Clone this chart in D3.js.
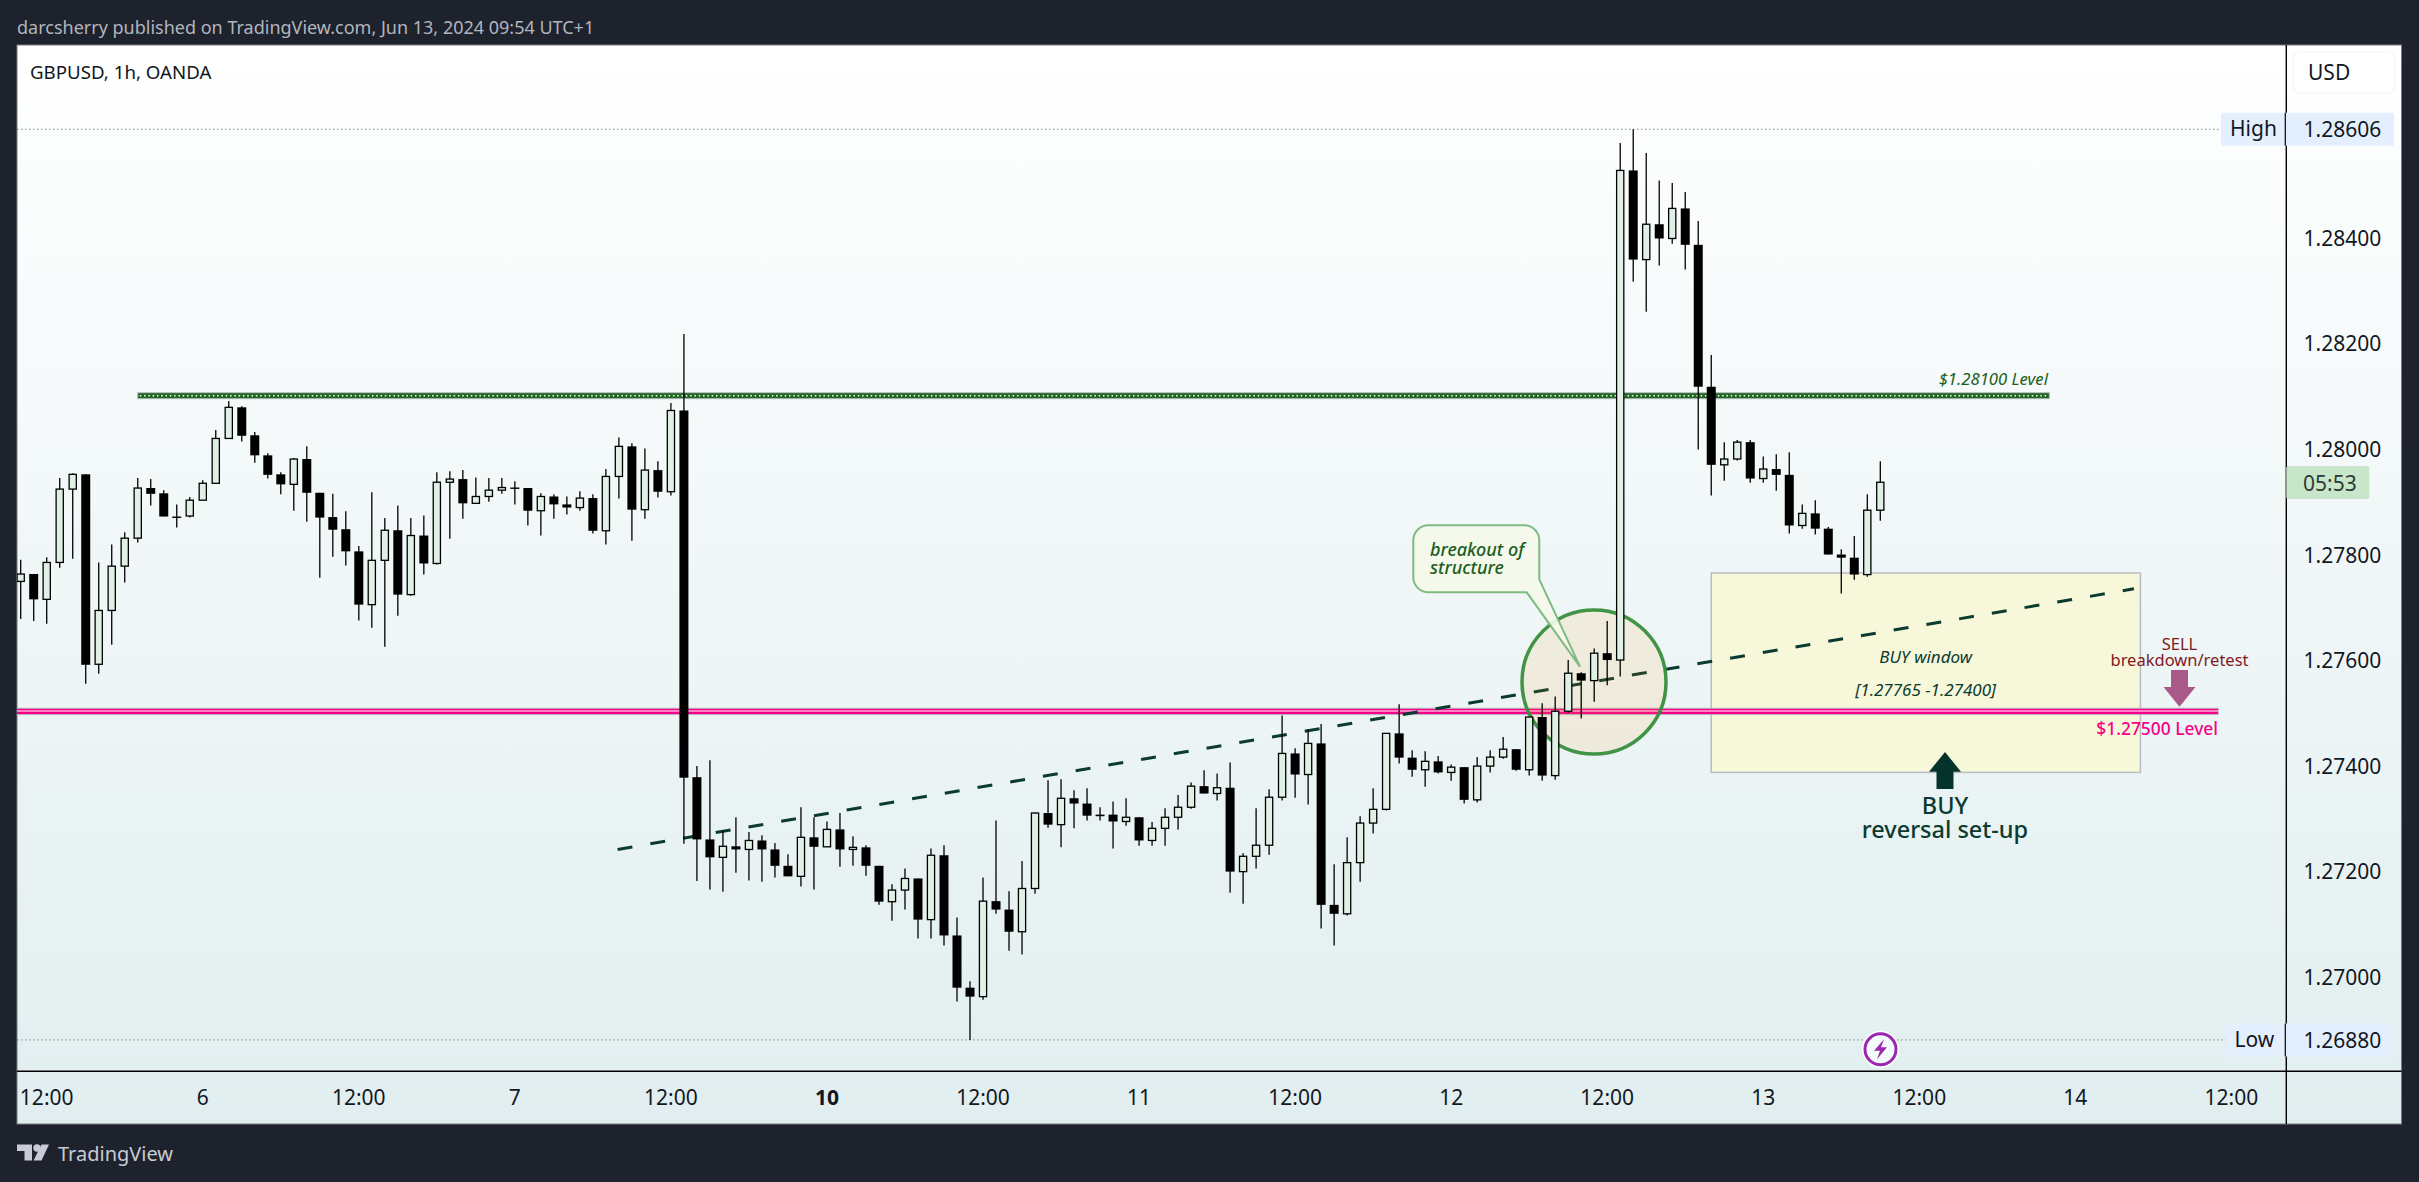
<!DOCTYPE html>
<html><head><meta charset="utf-8">
<style>html,body{margin:0;padding:0;background:#1e222d;overflow:hidden}svg{display:block}text{font-family:"Noto Sans",sans-serif}</style>
<script src="https://cdn.jsdelivr.net/npm/d3@7/dist/d3.min.js"></script>
</head><body><div id="c"></div>
<script>
const opens=[1.27749,1.27763,1.27715,1.27785,1.27924,1.27952,1.27592,1.27694,1.27778,1.27831,
1.27926,1.27916,1.27872,1.27873,1.27903,1.27935,1.28020,1.28079,1.28026,1.27988,
1.27952,1.27933,1.27981,1.27917,1.27871,1.27848,1.27806,1.27705,1.27789,1.27846,
1.27724,1.27836,1.27783,1.27937,1.27943,1.27897,1.27910,1.27922,1.27927,1.27926,
1.27883,1.27910,1.27895,1.27889,1.27907,1.27845,1.27948,1.28005,1.27885,1.27960,
1.27919,1.28073,1.27378,1.27260,1.27226,1.27247,1.27241,1.27258,1.27241,1.27210,
1.27190,1.27264,1.27246,1.27279,1.27241,1.27245,1.27210,1.27142,1.27164,1.27186,
1.27108,1.27230,1.27078,1.26979,1.26962,1.27143,1.27127,1.27085,1.27167,1.27310,
1.27288,1.27338,1.27328,1.27307,1.27307,1.27294,1.27302,1.27258,1.27281,1.27302,
1.27321,1.27361,1.27347,1.27358,1.27199,1.27228,1.27249,1.27340,1.27423,1.27383,
1.27442,1.27136,1.27119,1.27216,1.27291,1.27317,1.27461,1.27415,1.27392,1.27408,
1.27387,1.27397,1.27335,1.27399,1.27416,1.27431,1.27392,1.27492,1.27381,1.27503,
1.27575,1.27561,1.27613,1.27600,1.28528,1.28359,1.28426,1.28399,1.28456,1.28387,
1.28118,1.27970,1.27981,1.28013,1.27944,1.27962,1.27951,1.27855,1.27878,1.27849,
1.27800,1.27794,1.27762,1.27884];
const highs=[1.27790,1.27763,1.27795,1.27945,1.27954,1.27952,1.27785,1.27819,1.27842,1.27945,
1.27943,1.27922,1.27895,1.27909,1.27941,1.28036,1.28091,1.28081,1.28032,1.27992,
1.27956,1.27983,1.28005,1.27917,1.27915,1.27882,1.27816,1.27918,1.27869,1.27893,
1.27869,1.27874,1.27956,1.27958,1.27960,1.27946,1.27945,1.27945,1.27939,1.27926,
1.27916,1.27914,1.27910,1.27920,1.27914,1.27962,1.28022,1.28011,1.28001,1.27977,
1.28087,1.28218,1.27399,1.27410,1.27277,1.27302,1.27274,1.27268,1.27253,1.27232,
1.27321,1.27302,1.27294,1.27310,1.27266,1.27249,1.27210,1.27175,1.27205,1.27186,
1.27243,1.27249,1.27112,1.26991,1.27188,1.27296,1.27162,1.27219,1.27311,1.27372,
1.27374,1.27353,1.27357,1.27321,1.27332,1.27338,1.27302,1.27293,1.27319,1.27344,
1.27368,1.27391,1.27385,1.27406,1.27234,1.27319,1.27355,1.27495,1.27433,1.27469,
1.27479,1.27213,1.27264,1.27304,1.27357,1.27461,1.27516,1.27429,1.27427,1.27418,
1.27402,1.27397,1.27416,1.27429,1.27454,1.27431,1.27492,1.27518,1.27531,1.27600,
1.27577,1.27622,1.27674,1.28580,1.28606,1.28561,1.28509,1.28504,1.28487,1.28432,
1.28178,1.28013,1.28017,1.28017,1.27986,1.27990,1.27994,1.27895,1.27903,1.27852,
1.27810,1.27835,1.27914,1.27977];
const lows=[1.27678,1.27674,1.27669,1.27775,1.27792,1.27555,1.27574,1.27629,1.27747,1.27823,
1.27893,1.27872,1.27851,1.27870,1.27903,1.27935,1.28020,1.28014,1.27974,1.27944,
1.27914,1.27883,1.27862,1.27756,1.27796,1.27779,1.27675,1.27661,1.27625,1.27684,
1.27722,1.27762,1.27781,1.27830,1.27868,1.27897,1.27900,1.27915,1.27895,1.27855,
1.27836,1.27868,1.27876,1.27883,1.27840,1.27819,1.27906,1.27826,1.27868,1.27908,
1.27912,1.27252,1.27181,1.27165,1.27161,1.27197,1.27182,1.27180,1.27188,1.27190,
1.27171,1.27165,1.27246,1.27208,1.27210,1.27191,1.27136,1.27106,1.27127,1.27072,
1.27072,1.27059,1.26953,1.26880,1.26956,1.27119,1.27049,1.27042,1.27157,1.27282,
1.27245,1.27281,1.27296,1.27296,1.27243,1.27286,1.27248,1.27248,1.27248,1.27279,
1.27318,1.27347,1.27334,1.27159,1.27138,1.27205,1.27231,1.27334,1.27339,1.27326,
1.27091,1.27059,1.27116,1.27180,1.27271,1.27315,1.27404,1.27379,1.27360,1.27385,
1.27371,1.27328,1.27330,1.27387,1.27413,1.27390,1.27381,1.27371,1.27373,1.27500,
1.27489,1.27521,1.27552,1.27569,1.28317,1.28260,1.28348,1.28389,1.28340,1.27999,
1.27912,1.27940,1.27978,1.27936,1.27936,1.27921,1.27840,1.27849,1.27838,1.27800,
1.27726,1.27752,1.27758,1.27864];
const closes=[1.27763,1.27715,1.27785,1.27924,1.27952,1.27591,1.27694,1.27778,1.27831,1.27926,
1.27915,1.27872,1.27871,1.27903,1.27935,1.28020,1.28079,1.28025,1.27988,1.27951,
1.27933,1.27981,1.27917,1.27870,1.27847,1.27806,1.27705,1.27789,1.27846,1.27724,
1.27836,1.27783,1.27937,1.27943,1.27897,1.27910,1.27922,1.27927,1.27926,1.27883,
1.27910,1.27895,1.27889,1.27907,1.27845,1.27948,1.28005,1.27885,1.27960,1.27919,
1.28073,1.27377,1.27260,1.27226,1.27247,1.27241,1.27258,1.27241,1.27210,1.27190,
1.27264,1.27246,1.27279,1.27241,1.27245,1.27210,1.27142,1.27164,1.27186,1.27108,
1.27230,1.27078,1.26979,1.26962,1.27143,1.27127,1.27085,1.27167,1.27310,1.27288,
1.27338,1.27328,1.27305,1.27304,1.27294,1.27302,1.27258,1.27281,1.27302,1.27321,
1.27361,1.27347,1.27358,1.27199,1.27228,1.27249,1.27340,1.27423,1.27383,1.27442,
1.27136,1.27119,1.27216,1.27291,1.27317,1.27461,1.27415,1.27392,1.27408,1.27387,
1.27397,1.27335,1.27399,1.27416,1.27431,1.27392,1.27492,1.27381,1.27503,1.27575,
1.27561,1.27613,1.27600,1.28528,1.28359,1.28426,1.28399,1.28456,1.28387,1.28118,
1.27970,1.27981,1.28013,1.27944,1.27962,1.27951,1.27855,1.27878,1.27849,1.27800,
1.27794,1.27762,1.27884,1.27937];
const priceTicks=[1.284,1.282,1.280,1.278,1.276,1.274,1.272,1.270];
const timeTickIndex=[2,14,26,38,50,62,74,86,98,110,122,134,146,158,170];
const timeTickLabels=["12:00","6","12:00","7","12:00","10","12:00","11","12:00","12","12:00","13","12:00","14","12:00"];
const boldTick="10";
const highPrice=1.28606, lowPrice=1.26880;
const greenLevel=1.28101, pinkLevel=1.27503;
const trendIndex=[45.9,162.5], trendPrice=[1.27241,1.27735];
const zoneIndex=[130,163], zonePrice=[1.27765,1.27387];

const W=2419,H=1182,PL=17,PT=45,PR=2401.5,PB=1124,AX=2286.3,AY=1071.3;
const bg="#1e222d", ink="#131722", dark="#0b3b30";
const x=d3.scaleLinear().domain([0,143]).range([20.7,1880.3]);
const y=d3.scaleLinear().domain([1.27,1.28]).range([976.6,449]);
const svg=d3.select("#c").append("svg").attr("width",W).attr("height",H);
const defs=svg.append("defs");
const grad=defs.append("linearGradient").attr("id","g").attr("x1",0).attr("x2",0).attr("y1",0).attr("y2",1);
grad.append("stop").attr("offset",0).attr("stop-color","#ffffff");
grad.append("stop").attr("offset",1).attr("stop-color","#e1eeef");
defs.append("clipPath").attr("id","plot").append("rect").attr("x",PL).attr("y",PT).attr("width",AX-PL).attr("height",AY-PT);

function txt(g,s,px,py,o={}){
  return g.append("text").attr("x",px).attr("y",py).attr("dominant-baseline","central")
    .attr("text-anchor",o.a||"start").attr("fill",o.c||ink).attr("font-size",o.s||20)
    .attr("font-style",o.i?"italic":"normal").attr("font-weight",o.b||400).text(s);
}
function txt2(g,lines,px,ys,o={}){
  const t=g.append("text").attr("text-anchor",o.a||"start").attr("fill",o.c||ink).attr("font-size",o.s||20)
    .attr("font-style",o.i?"italic":"normal").attr("font-weight",o.b||400);
  lines.forEach((s,k)=>t.append("tspan").attr("x",px).attr("y",ys[k]).attr("dominant-baseline","central").text(s));
  return t;
}
svg.append("rect").attr("width",W).attr("height",H).attr("fill",bg);
svg.append("rect").attr("x",PL).attr("y",PT).attr("width",PR-PL).attr("height",PB-PT).attr("fill","url(#g)").attr("stroke","#787b86").attr("stroke-width",1);
txt(svg,"darcsherry published on TradingView.com, Jun 13, 2024 09:54 UTC+1",17,26.5,{c:"#b2b5be",s:18});

const plot=svg.append("g").attr("clip-path","url(#plot)");
[highPrice,lowPrice].forEach(p=>plot.append("line").attr("x1",PL).attr("x2",AX-60).attr("y1",y(p)).attr("y2",y(p)).attr("stroke","#80848f").attr("stroke-width",1).attr("stroke-dasharray","1.5 2.5"));
plot.append("rect").attr("x",x(zoneIndex[0])).attr("y",y(zonePrice[0])).attr("width",x(zoneIndex[1])-x(zoneIndex[0])).attr("height",y(zonePrice[1])-y(zonePrice[0])).attr("fill","#f7f7da").attr("stroke","#b9bcc4").attr("stroke-width",1.5);
const pinkY=y(pinkLevel);
plot.append("rect").attr("x",PL-2).attr("y",pinkY-3).attr("width",x(169)-PL+2).attr("height",6.4).attr("fill","#f7008a").attr("stroke","#b9bcc4").attr("stroke-width",1);
plot.append("line").attr("x1",PL).attr("x2",x(169)).attr("y1",pinkY-.2).attr("y2",pinkY-.2).attr("stroke","#ffffff").attr("stroke-width",1.2);
const greenY=y(greenLevel);
plot.append("rect").attr("x",x(9)).attr("y",greenY-3).attr("width",x(156)-x(9)).attr("height",6).attr("fill","#1f661f").attr("stroke","#b9bcc4").attr("stroke-width",1);
plot.append("line").attr("x1",x(9)+2).attr("x2",x(156)-1).attr("y1",greenY).attr("y2",greenY).attr("stroke","#ffffff").attr("stroke-width",1.5).attr("stroke-dasharray","1.5 2.8");
plot.append("line").attr("x1",x(trendIndex[0])).attr("y1",y(trendPrice[0])).attr("x2",x(trendIndex[1])).attr("y2",y(trendPrice[1])).attr("stroke",dark).attr("stroke-width",3).attr("stroke-dasharray","15 18.2");
plot.append("ellipse").attr("cx",1594).attr("cy",682).attr("rx",72).attr("ry",72).attr("fill","rgba(255,152,0,0.1)").attr("stroke","#388e3c").attr("stroke-opacity",.95).attr("stroke-width",3.5);
plot.append("path").attr("d","M1428.3 525.3H1524.3a15 15 0 0 1 15 15V579.3L1580 666.7L1526.7 592.3H1428.3a15 15 0 0 1 -15 -15V540.3a15 15 0 0 1 15 -15Z").attr("fill","#f5f8ea").attr("fill-opacity",.92).attr("stroke","#7fba82").attr("stroke-width",2);
const idx=d3.range(opens.length);
const cand=plot.append("g").selectAll("g").data(idx).join("g");
cand.append("line").attr("x1",i=>x(i)).attr("x2",i=>x(i)).attr("y1",i=>y(highs[i])).attr("y2",i=>y(lows[i])).attr("stroke","#000").attr("stroke-width",1.3);
cand.append("rect").attr("x",i=>x(i)-(closes[i]>=opens[i]?3.6:4.5)).attr("width",i=>closes[i]>=opens[i]?7.2:9)
  .attr("y",i=>y(Math.max(opens[i],closes[i])))
  .attr("height",i=>Math.max(1.4,Math.abs(y(opens[i])-y(closes[i]))))
  .attr("fill",i=>closes[i]>=opens[i]?"#e0f0e5":"#000")
  .attr("stroke",i=>closes[i]>=opens[i]?"#000":"none").attr("stroke-width",1.3);
txt2(plot,["breakout of","structure"],1430,[549,566.5],{c:"#1b5e20",s:18,i:1,b:500});
txt(plot,"$1.28100 Level",2048,378,{a:"end",c:"#1b5e20",s:16.7,i:1});
txt(plot,"BUY window",1925.7,656.5,{a:"middle",c:dark,s:17,i:1});
txt(plot,"[1.27765 -1.27400]",1925.7,689,{a:"middle",c:dark,s:17,i:1});
txt(plot,"$1.27500 Level",2218,728,{a:"end",c:"#f7008a",s:17.4,b:500});
txt2(plot,["SELL","breakdown/retest"],2179.5,[643,659],{a:"middle",c:"#801922",s:16.5});
txt2(plot,["BUY","reversal set-up"],1945,[805,829],{a:"middle",c:dark,s:23.5,b:500});
plot.append("path").attr("d","M1945 752L1961 771.7H1953.5V789H1936.5V771.7H1929Z").attr("fill","#04332b");
plot.append("path").attr("d","M2179.5 706.7L2163.5 687H2171V670H2188V687H2195.5Z").attr("fill","#a9588a");
const ic=plot.append("g").attr("transform","translate(1880.5,1049.3)");
ic.append("circle").attr("r",17.5).attr("fill","#fff").attr("stroke","#fff").attr("stroke-width",2);
ic.append("circle").attr("r",15.5).attr("fill","#f4fbfb").attr("stroke","#9c27b0").attr("stroke-width",3);
ic.append("path").attr("d","M3.5 -10L-6.5 1.5H-0.5L-3.5 10L6.5 -2H0.5Z").attr("fill","#9c27b0");

svg.append("line").attr("x1",AX).attr("x2",AX).attr("y1",PT).attr("y2",PB).attr("stroke","#000").attr("stroke-width",1.4);
svg.append("line").attr("x1",PL).attr("x2",PR).attr("y1",AY).attr("y2",AY).attr("stroke","#000").attr("stroke-width",1.4);
const fmt=d3.format(".5f");
priceTicks.forEach(p=>txt(svg,fmt(p),2303.5,y(p),{s:21}));
timeTickIndex.forEach((t,k)=>txt(svg,timeTickLabels[k],Math.max(x(t),46),1097,{a:"middle",s:21,b:timeTickLabels[k]===boldTick?700:400}));
[[highPrice,"High",2221,2230],[lowPrice,"Low",2225.5,2234.5]].forEach(d=>{
  const yy=y(d[0]);
  svg.append("rect").attr("x",d[2]).attr("y",yy-16.5).attr("width",2394-d[2]).attr("height",33).attr("rx",2).attr("fill","#e3effd");
  svg.append("line").attr("x1",AX-1).attr("x2",AX-1).attr("y1",yy-16.5).attr("y2",yy+16.5).attr("stroke","#000").attr("stroke-width",1.2);
  txt(svg,d[1],d[3],yy-1,{s:21});
  txt(svg,fmt(d[0]),2303.5,yy,{s:21});
});
svg.append("rect").attr("x",AX).attr("y",466).attr("width",83).attr("height",33).attr("rx",2).attr("fill","#c8e6c9");
txt(svg,"05:53",2303,482.5,{s:21,c:"#2f3a33"});
svg.append("rect").attr("x",2293).attr("y",52).attr("width",102).attr("height",41).attr("rx",8).attr("fill","#fff").attr("stroke","#f0f3fa").attr("stroke-width",1.2);
txt(svg,"USD",2308,72,{s:21});
txt(svg,"GBPUSD, 1h, OANDA",30,71.5,{s:18.7});
const lg=svg.append("g");
lg.append("path").attr("d","M17 1144.5H32V1160.5H24.5V1151H17Z").attr("fill","#c8cad4");
lg.append("circle").attr("cx",37).attr("cy",1148).attr("r",3.7).attr("fill","#c8cad4");
lg.append("path").attr("d","M41.5 1144.5H49L41.5 1160.5H33.5Z").attr("fill","#c8cad4");
txt(lg,"TradingView",58,1153,{s:20,c:"#c8cad4"});
</script></body></html>
